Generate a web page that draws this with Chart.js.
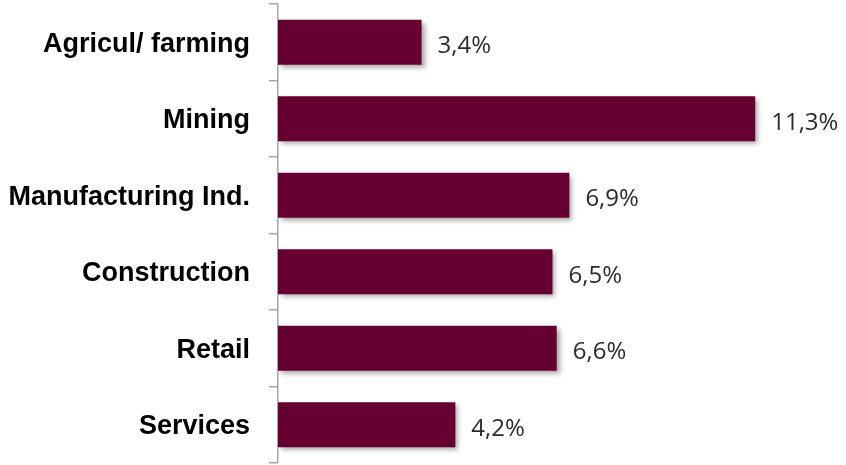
<!DOCTYPE html>
<html>
<head>
<meta charset="utf-8">
<script src="https://cdn.jsdelivr.net/npm/chart.js@4.4.1/dist/chart.umd.min.js"></script>
<style>
  html, body { margin: 0; padding: 0; background: #fff; }
  #wrap { width: 846px; height: 465px; }
</style>
</head>
<body>
<div id="wrap"><canvas id="barChart"></canvas></div>
<script>
    // sectors and their share (%)
    var sectors = ['Agricul/ farming', 'Mining', 'Manufacturing Ind.', 'Construction', 'Retail', 'Services'];
    var shares = [3.4, 11.3, 6.9, 6.5, 6.6, 4.2];
    var xMax = 13.45;

    // bar shadow
    var shadowPlugin = {
        id: 'barShadow',
        beforeDatasetDraw: function (chart) {
            var ctx = chart.ctx;
            ctx.save();
            ctx.shadowColor = 'rgba(0,0,0,0.35)';
            ctx.shadowBlur = 5;
            ctx.shadowOffsetX = 3;
            ctx.shadowOffsetY = 3;
        },
        afterDatasetDraw: function (chart) {
            chart.ctx.restore();
        }
    };

    // value labels on the right of each bar
    var valuePlugin = {
        id: 'valueLabels',
        afterDatasetsDraw: function (chart) {
            var ctx = chart.ctx;
            var meta = chart.getDatasetMeta(0);
            ctx.save();
            ctx.font = '24px "Open Sans"';
            ctx.fillStyle = '#2b2b2b';
            ctx.textAlign = 'left';
            ctx.textBaseline = 'middle';
            meta.data.forEach(function (bar, i) {
                var txt = shares[i].toFixed(1).replace('.', ',') + '%';
                ctx.fillText(txt, bar.x + 16, bar.y + 4);
            });
            ctx.restore();
        }
    };

    var barData = {
        labels: sectors,
        datasets: [{
            data: shares,
            backgroundColor: '#650031',
            borderWidth: 0,
            barPercentage: 0.59,
            categoryPercentage: 1
        }]
    };

    var barOptions = {
        indexAxis: 'y',
        responsive: true,
        maintainAspectRatio: false,
        animation: false,
        layout: { padding: { top: 4, bottom: 2, right: 0, left: 0 } },
        plugins: {
            legend: { display: false },
            tooltip: { enabled: false }
        },
        scales: {
            x: {
                display: false,
                min: 0,
                max: xMax
            },
            y: {
                afterFit: function (scale) {
                    scale.width = 278;
                    scale.paddingTop = 0;
                    scale.paddingBottom = 0;
                },
                border: { display: true, color: '#a6a6a6', width: 1.5 },
                grid: {
                    display: true,
                    drawOnChartArea: false,
                    drawTicks: true,
                    tickLength: 9,
                    color: '#a6a6a6',
                    lineWidth: 1.5,
                    offset: true
                },
                ticks: {
                    padding: 19,
                    labelOffset: 2,
                    color: '#000',
                    font: { family: '"Liberation Sans", Arial', size: 27, weight: 'bold' }
                }
            }
        }
    };

    var ctx = document.getElementById('barChart').getContext('2d');
    new Chart(ctx, {type: 'bar', data: barData, options: barOptions, plugins: [shadowPlugin, valuePlugin]});
</script>
</body>
</html>
